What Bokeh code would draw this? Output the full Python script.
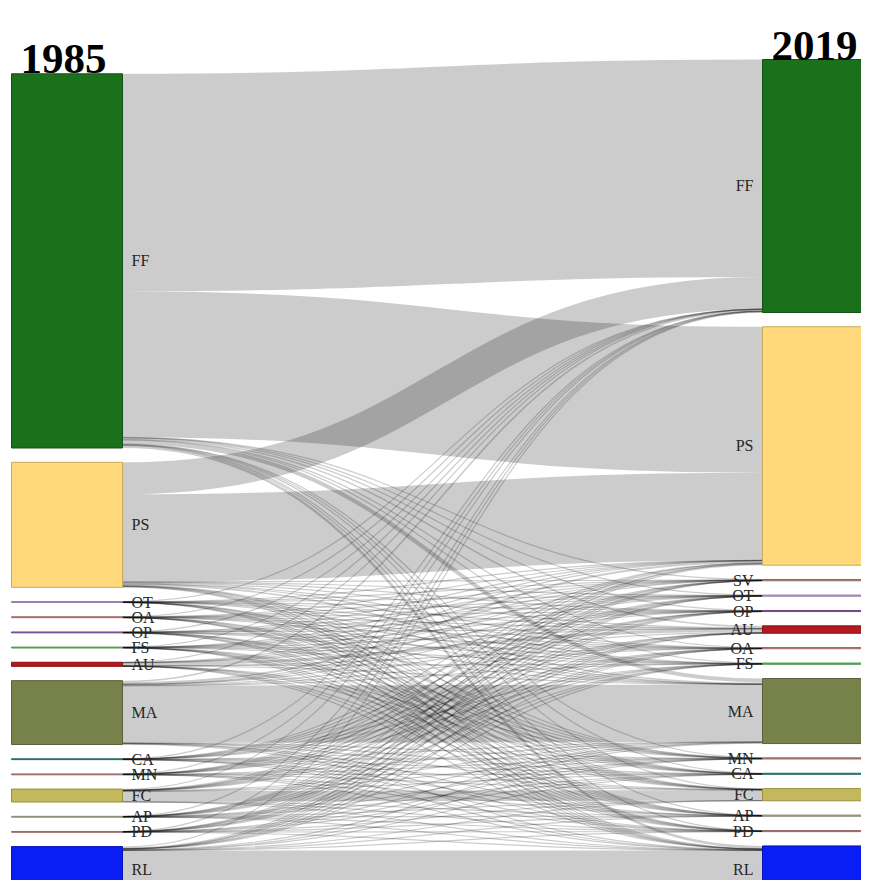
from bokeh.plotting import figure
from bokeh.models import Range1d
from bokeh.embed import file_html
from bokeh.resources import INLINE
from bokeh.core.properties import value

# ---------------- data ----------------
years = ["1985", "2019"]

left_classes = ["FF", "PS", "OT", "OA", "OP", "FS", "AU", "MA", "CA", "MN", "FC", "AP", "PD", "RL"]
right_classes = ["FF", "PS", "SV", "OT", "OP", "AU", "OA", "FS", "MA", "MN", "CA", "FC", "AP", "PD", "RL"]

# flows from each 1985 class to the 2019 classes (order = right_classes)
flows_FF = [217.5, 146.0, 0.3, 0.2, 0.2, 1.5, 0.3, 0.3, 4.0, 0.2, 0.2, 0.5, 0.3, 0.2, 2.5]
flows_PS = [32.0, 87.5, 0.3, 0.2, 0.2, 1.2, 0.2, 0.2, 1.5, 0.2, 0.2, 0.3, 0.2, 0.2, 0.6]
flows_OT = [0.09, 0.10, 0.05, 0.18, 0.05, 0.05, 0.03, 0.04, 0.07, 0.03, 0.04, 0.03, 0.04, 0.03, 0.05]
flows_OA = [0.07, 0.12, 0.05, 0.03, 0.04, 0.07, 0.18, 0.04, 0.08, 0.04, 0.03, 0.04, 0.03, 0.04, 0.04]
flows_OP = [0.09, 0.09, 0.03, 0.05, 0.18, 0.05, 0.04, 0.03, 0.07, 0.04, 0.04, 0.03, 0.04, 0.03, 0.04]
flows_FS = [0.10, 0.09, 0.04, 0.04, 0.03, 0.05, 0.04, 0.18, 0.05, 0.03, 0.04, 0.04, 0.03, 0.04, 0.05]
flows_AU = [0.10, 0.20, 0.08, 0.05, 0.05, 3.00, 0.05, 0.05, 0.15, 0.05, 0.05, 0.05, 0.05, 0.05, 0.08]
flows_MA = [1.5, 2.0, 0.15, 0.10, 0.10, 1.0, 0.10, 0.10, 57.3, 0.10, 0.10, 0.30, 0.10, 0.10, 0.80]
flows_CA = [0.07, 0.09, 0.04, 0.03, 0.04, 0.05, 0.03, 0.04, 0.08, 0.04, 0.18, 0.04, 0.03, 0.04, 0.05]
flows_MN = [0.09, 0.07, 0.03, 0.04, 0.03, 0.05, 0.04, 0.04, 0.07, 0.18, 0.04, 0.03, 0.04, 0.03, 0.05]
flows_FC = [0.40, 0.80, 0.05, 0.05, 0.05, 0.10, 0.05, 0.05, 0.50, 0.05, 0.05, 10.5, 0.05, 0.05, 0.20]
flows_AP = [0.07, 0.09, 0.04, 0.04, 0.03, 0.04, 0.04, 0.03, 0.08, 0.04, 0.03, 0.04, 0.18, 0.04, 0.05]
flows_PD = [0.09, 0.07, 0.03, 0.03, 0.04, 0.04, 0.04, 0.04, 0.07, 0.04, 0.04, 0.03, 0.04, 0.18, 0.05]
flows_RL = [0.80, 1.20, 0.10, 0.05, 0.05, 0.20, 0.05, 0.05, 1.00, 0.05, 0.05, 0.20, 0.05, 0.05, 45.0]

class_colors = {
    "FF": "#1b711b", "PS": "#ffd97b", "SV": "#b39184", "OT": "#c7a3d9",
    "OA": "#c98a8a", "OP": "#9a5fb0", "FS": "#67c467", "AU": "#b3191d",
    "MA": "#77824a", "MN": "#bd8585", "CA": "#348e86", "FC": "#c4b85c",
    "AP": "#b0b39a", "PD": "#bf8a8a", "RL": "#0b1df5",
}
class_strokes = {
    "FF": "#145214", "PS": "#c9a95a", "SV": "#8a6d62", "OT": "#9a7aab",
    "OA": "#a06666", "OP": "#74438a", "FS": "#479447", "AU": "#8a1215",
    "MA": "#59623a", "MN": "#956464", "CA": "#256a64", "FC": "#98903f",
    "AP": "#878a74", "PD": "#966767", "RL": "#0715b8",
}

flow_rows = [flows_FF, flows_PS, flows_OT, flows_OA, flows_OP, flows_FS, flows_AU,
             flows_MA, flows_CA, flows_MN, flows_FC, flows_AP, flows_PD, flows_RL]

# ---------------- layout (sankey) ----------------
W, H = 861, 880
KY = 1.0          # px per unit
PAD = 14.3        # node padding
TOP = 59.0
NODE_W = 111.0
X_LEFT = 11.0
X_RIGHT = 762.0
MIN_W = 1.2

left_tot = [sum(r) for r in flow_rows]
right_tot = [sum(r[j] for r in flow_rows) for j in range(len(right_classes))]

left_ext = sum(left_tot) * KY + (len(left_tot) - 1) * PAD
right_ext = sum(right_tot) * KY + (len(right_tot) - 1) * PAD
bottom = TOP + max(left_ext, right_ext)


def stack(tots, ext):
    y = bottom - ext
    y0s, y1s = [], []
    for t in tots:
        y0s.append(y)
        y1s.append(y + t * KY)
        y = y + t * KY + PAD
    return y0s, y1s


ly0, ly1 = stack(left_tot, left_ext)
ry0, ry1 = stack(right_tot, right_ext)

sx = X_LEFT + NODE_W
tx = X_RIGHT
links = {"x0": [], "y0": [], "x1": [], "y1": [], "cx0": [], "cy0": [], "cx1": [], "cy1": [], "w": []}
src_off = list(ly0)
tgt_off = list(ry0)
link_list = []
for i, row in enumerate(flow_rows):
    for j, v in enumerate(row):
        if v > 0:
            link_list.append((i, j, v))
ys_map = {}
for i, j, v in sorted(link_list, key=lambda t: (t[0], t[1])):
    w = v * KY
    ys_map[(i, j)] = src_off[i] + w / 2
    src_off[i] += w
yt_map = {}
for i, j, v in sorted(link_list, key=lambda t: (t[1], t[0])):
    w = v * KY
    yt_map[(i, j)] = tgt_off[j] + w / 2
    tgt_off[j] += w
for i, j, v in link_list:
    ys, yt = ys_map[(i, j)], yt_map[(i, j)]
    links["x0"].append(sx); links["y0"].append(ys)
    links["x1"].append(tx); links["y1"].append(yt)
    links["cx0"].append((sx + tx) / 2); links["cy0"].append(ys)
    links["cx1"].append((sx + tx) / 2); links["cy1"].append(yt)
    links["w"].append(max(MIN_W, v * KY))

# ---------------- figure ----------------
p = figure(width=W, height=H, x_range=Range1d(0, W), y_range=Range1d(H, 0),
           output_backend="svg", toolbar_location=None,
           x_axis_location=None, y_axis_location=None, min_border=0)
p.grid.visible = False
p.outline_line_color = None
p.background_fill_color = "white"
p.border_fill_color = "white"

p.bezier(x0="x0", y0="y0", x1="x1", y1="y1", cx0="cx0", cy0="cy0", cx1="cx1", cy1="cy1",
         line_width="w", line_color="black", line_alpha=0.2, source=links)

# nodes
p.quad(left=[X_LEFT] * len(left_classes), right=[X_LEFT + NODE_W] * len(left_classes),
       top=ly0, bottom=ly1,
       fill_color=[class_colors[c] for c in left_classes],
       line_color=[class_strokes[c] for c in left_classes], line_width=1)
p.quad(left=[X_RIGHT] * len(right_classes), right=[X_RIGHT + NODE_W] * len(right_classes),
       top=ry0, bottom=ry1,
       fill_color=[class_colors[c] for c in right_classes],
       line_color=[class_strokes[c] for c in right_classes], line_width=1)

# labels (kept inside the visible frame)
LBL = 9
LBL_MAX_Y = H - 11


def lbl_y(a, b):
    return min((a + b) / 2, LBL_MAX_Y)


p.text(x=[X_LEFT + NODE_W + LBL] * len(left_classes),
       y=[lbl_y(a, b) for a, b in zip(ly0, ly1)], text=left_classes,
       text_align="left", text_baseline="middle", text_font=value("Liberation Serif"),
       text_font_size="16px", text_color="#262626")
p.text(x=[X_RIGHT - LBL] * len(right_classes),
       y=[lbl_y(a, b) for a, b in zip(ry0, ry1)], text=right_classes,
       text_align="right", text_baseline="middle", text_font=value("Liberation Serif"),
       text_font_size="16px", text_color="#262626")

# year titles
p.text(x=[X_LEFT + 9], y=[ly0[0] - 15], text=[years[0]], text_align="left",
       text_baseline="alphabetic", text_font=value("Liberation Serif"),
       text_font_style="bold", text_font_size="43px", text_color="black")
p.text(x=[W - 4], y=[ry0[0] - 14], text=[years[1]], text_align="right",
       text_baseline="alphabetic", text_font=value("Liberation Serif"),
       text_font_style="bold", text_font_size="43px", text_color="black")

open("out.html", "w").write(file_html(p, INLINE))
